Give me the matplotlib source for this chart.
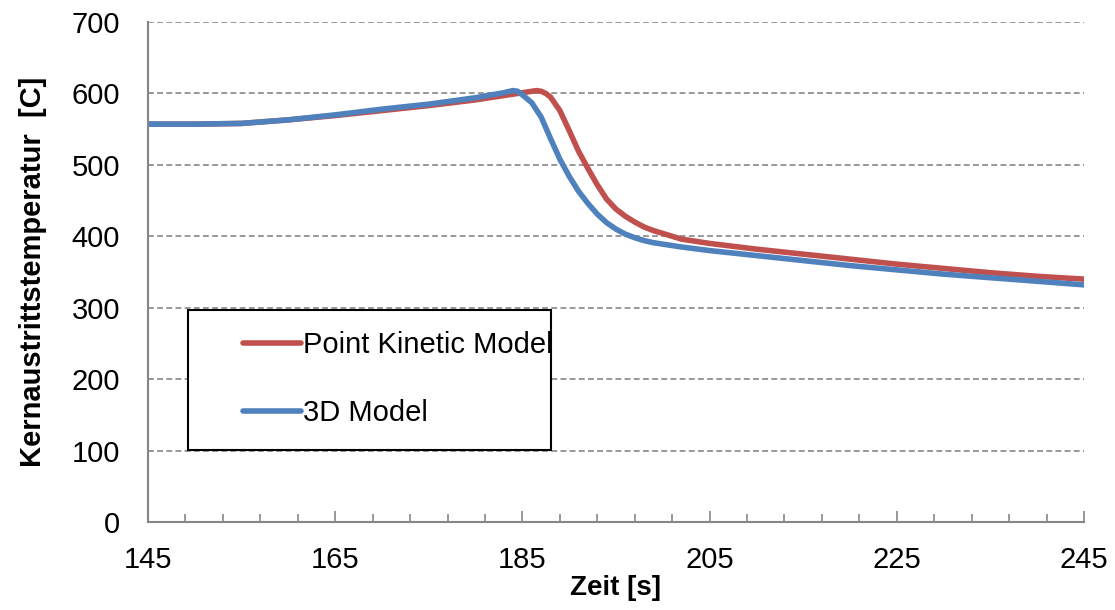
import matplotlib.pyplot as plt
from matplotlib.patches import Rectangle

plt.rcParams['font.family'] = ['Liberation Sans', 'DejaVu Sans']

# time [s] and core outlet temperature [C]
t_pk = [145, 150, 155, 160, 165, 170, 175, 180, 183, 185, 186, 186.5, 187, 187.5,
        188, 189, 190, 191, 192, 193, 194, 195, 196, 197, 198, 199, 200, 202,
        205, 210, 215, 220, 225, 230, 235, 240, 245]
temp_pk = [557, 557, 558, 563, 569, 576, 583, 591, 597, 601, 603, 604, 603, 600,
           595, 576, 548, 519, 495, 472, 452, 438, 428, 420, 413, 408, 404, 396,
           390, 382, 375, 368, 361, 355, 349, 344, 340]

t_3d = [145, 150, 155, 160, 165, 170, 175, 180, 183, 184, 184.5, 185, 186, 187,
        188, 189, 190, 191, 192, 193, 194, 195, 196, 197, 198, 199, 200, 202,
        205, 210, 215, 220, 225, 230, 235, 240, 245]
temp_3d = [557, 557, 558, 563, 570, 578, 585, 594, 601, 604, 603, 598, 587, 567,
           537, 508, 484, 463, 446, 431, 419, 410, 403, 398, 394, 391, 389, 385,
           380, 373, 366, 359, 353, 347, 342, 337, 332]

x_major = list(range(145, 246, 20))
x_minor = list(range(145, 246, 4))

fig = plt.figure(figsize=(11.15, 6.1), dpi=100)
ax = fig.add_axes([148 / 1115, 1 - 522 / 610, (1084 - 148) / 1115, 500 / 610])

ax.plot(t_pk, temp_pk, color='#c0504d', lw=4, label='Point Kinetic Model',
        solid_capstyle='round', solid_joinstyle='round')
ax.plot(t_3d, temp_3d, color='#4f81bd', lw=4, label='3D Model',
        solid_capstyle='round', solid_joinstyle='round')

ax.set_xlim(145, 245)
ax.set_ylim(0, 700)
ax.set_xticks(x_major)
ax.set_xticks(x_minor, minor=True)
ax.set_yticks(range(0, 701, 100))
ax.tick_params(axis='x', which='major', direction='in', length=8, width=1.2,
               color='#868686', labelsize=21, pad=17)
ax.tick_params(axis='x', which='minor', direction='in', length=6, width=1.2,
               color='#868686')
ax.tick_params(axis='y', length=0, labelsize=21, pad=20)

ax.grid(axis='y', color='#868686', ls=(0, (3.5, 2)), lw=1.2)
ax.set_axisbelow(True)
for s in ['top', 'right']:
    ax.spines[s].set_visible(False)
for s in ['left', 'bottom']:
    ax.spines[s].set_color('#868686')
    ax.spines[s].set_linewidth(1.5)

ax.set_xlabel('Zeit [s]', fontsize=20, fontweight='bold', labelpad=1)
ax.set_ylabel('Kernaustrittstemperatur  [C]', fontsize=21, fontweight='bold',
              labelpad=18)

# legend box drawn separately, entries placed inside it
ax.add_patch(Rectangle((40 / 936, 72 / 500), 363 / 936, 140 / 500,
                       transform=ax.transAxes, facecolor='white',
                       edgecolor='black', lw=1.5, zorder=5))
leg = ax.legend(loc='center left', bbox_to_anchor=(95 / 936, 143 / 500),
                fontsize=21, frameon=False, handlelength=2.0,
                handletextpad=0.05, borderaxespad=0, borderpad=0,
                labelspacing=1.38)
leg.set_zorder(6)

fig.savefig('out.png', dpi=100)
